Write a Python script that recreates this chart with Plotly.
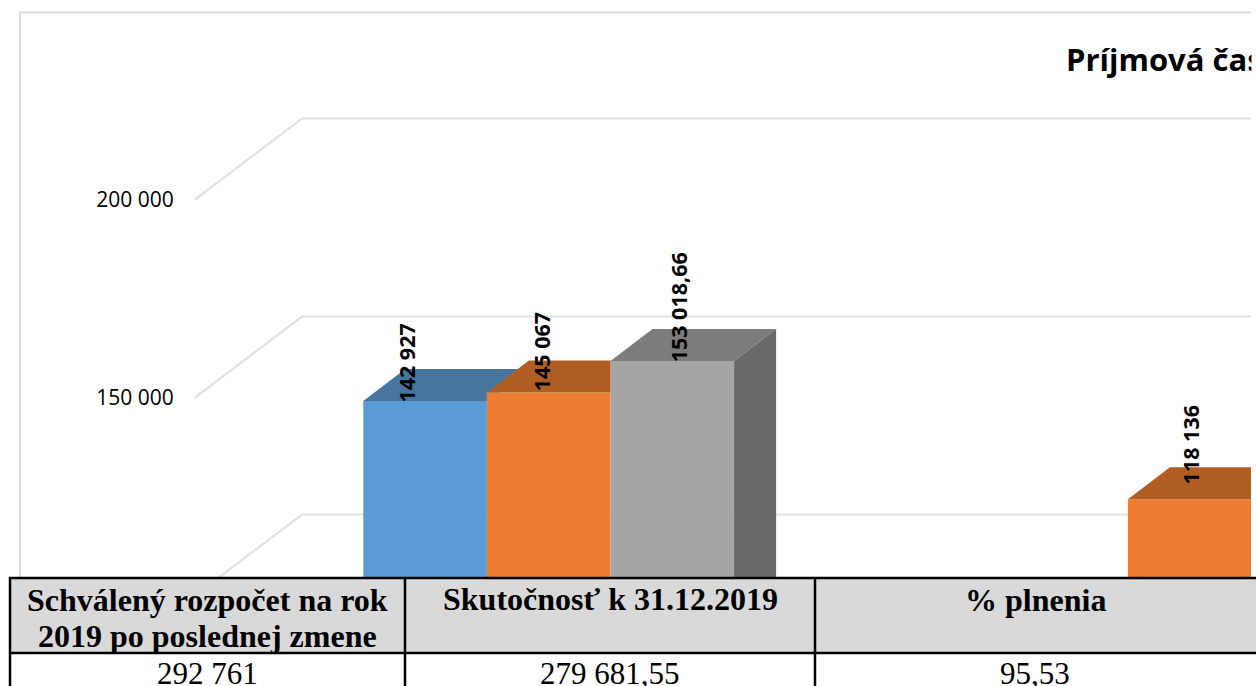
import plotly.graph_objects as go

# ---- data ----
categories = ["Skupina 1", "Skupina 2"]
rozpocet = [142927, None]
upraveny = [145067, 118136]
skutocnost = [153018.66, None]
bar_labels = {"rozpocet": ["142 927", None], "upraveny": ["145 067", "118 136"], "skutocnost": ["153 018,66", None]}
grid_values = [100000, 150000, 200000]
tick_values = [150000, 200000]
tick_labels = ["150 000", "200 000"]
title_text = "Príjmová časť"
table_headers = [["Schválený rozpočet na rok", "2019 po poslednej zmene"], ["Skutočnosť k 31.12.2019"], ["% plnenia"]]
table_values = ["292 761", "279 681,55", "95,53"]

# ---- layout constants (pixels of the 1256x686 page) ----
W, H = 1256, 686
LEFT = 195
UNITS_PER_PX = 50000 / 198
ZERO_PX = 991.5
BAR_LIFT = 24.5 * UNITS_PER_PX    # bars stand in from the floor front
DX, DY = 42, 32                   # bar depth
WALL_DX, WALL_DY = 107, 81        # floor depth
GROUP_X0, GROUP_STEP, BAR_W = 548.7, 641, 123.6
RIGHT_EDGE = 1251


def v_at(px):
    return (ZERO_PX - px) * UNITS_PER_PX


def px_paper_x(px):
    return (px - LEFT) / (W - LEFT)


def px_paper_y(px):
    return 1 - px / H


series = [
    ("rozpocet", rozpocet, -1, "#5B9BD5", "#47759F", None),
    ("upraveny", upraveny, 0, "#ED7D31", "#B15E24", None),
    ("skutocnost", skutocnost, 1, "#A5A5A5", "#7C7C7C", "#696969"),
]
label_shift = {  # dx px, dy px from the bar's front-top corner line
    ("rozpocet", 0): (-19, -3),
    ("upraveny", 0): (-7.5, 0),
    ("upraveny", 1): (1, 14),
    ("skutocnost", 0): (6, -2),
}

fig = go.Figure()
annotations = []
shapes = []

# frame and wall gridlines (below the marks)
shapes.append(dict(type="path", xref="paper", yref="paper",
                   path=f"M {px_paper_x(20)},{px_paper_y(H)} L {px_paper_x(20)},{px_paper_y(12.5)} L {px_paper_x(RIGHT_EDGE)},{px_paper_y(12.5)}",
                   line=dict(color="#DEDEDE", width=2), layer="below"))
for t in grid_values:
    shapes.append(dict(type="path", xref="x", yref="y", layer="below",
                       path=f"M {LEFT},{t} L {LEFT + WALL_DX},{t + WALL_DY * UNITS_PER_PX} L {RIGHT_EDGE},{t + WALL_DY * UNITS_PER_PX}",
                       line=dict(color="#E2E2E2", width=2.2)))

# front faces, through the bar trace
for name, vals, pos, front, top, side in series:
    xs = [GROUP_X0 + i * GROUP_STEP + pos * BAR_W for i in range(len(categories))]
    fig.add_trace(go.Bar(x=xs, y=vals, base=BAR_LIFT, width=BAR_W, name=name,
                         marker=dict(color=front, line=dict(width=0)), showlegend=False))

# top and side faces computed from the same values
for s_idx, (name, vals, pos, front, top, side) in enumerate(series):
    for i, v in enumerate(vals):
        if v is None:
            continue
        x0 = GROUP_X0 + i * GROUP_STEP + pos * BAR_W - BAR_W / 2
        x1 = x0 + BAR_W
        yt = v + BAR_LIFT
        yb = yt + DY * UNITS_PER_PX
        px_, py_ = [x0, x0 + DX, x1 + DX], [yt, yb, yb]
        nxt = series[s_idx + 1][1][i] if s_idx + 1 < len(series) else None
        if nxt is not None and nxt > v:
            rise = (nxt - v) / UNITS_PER_PX   # the next bar's face hides the corner
            px_ += [x1 + rise * DX / DY, x1, x1, x0]
            py_ += [yt + rise * UNITS_PER_PX, yt + rise * UNITS_PER_PX, yt, yt]
        else:
            px_ += [x1, x0]
            py_ += [yt, yt]
        fig.add_trace(go.Scatter(x=px_, y=py_, fill="toself", fillcolor=top, mode="lines",
                                 line=dict(width=0, color=top), showlegend=False, hoverinfo="skip"))
        if side:
            fig.add_trace(go.Scatter(x=[x1, x1 + DX, x1 + DX, x1], y=[yt, yb, v_at(H + 40), v_at(H + 40)],
                                     fill="toself", fillcolor=side, mode="lines",
                                     line=dict(width=0, color=side), showlegend=False, hoverinfo="skip"))
        lab = bar_labels[name][i]
        if lab:
            dx, dy = label_shift[(name, i)]
            annotations.append(dict(x=x0 + BAR_W / 2 + dx, y=yt + dy * UNITS_PER_PX, xref="x", yref="y",
                                    text=f"<b>{lab}</b>", textangle=-90, showarrow=False, xanchor="center",
                                    yanchor="bottom", font=dict(family="Open Sans", size=21.5, color="#000000"),
                                    borderpad=0, bgcolor="rgba(0,0,0,0)"))

# title, with the picture's right edge cutting it
annotations.append(dict(x=px_paper_x(1064), y=px_paper_y(59), xref="paper", yref="paper", text=f"<b>{title_text}</b>",
                        showarrow=False, xanchor="left", yanchor="middle", align="left",
                        font=dict(family="Open Sans", size=31, color="#000000")))
annotations.append(dict(x=px_paper_x(RIGHT_EDGE), y=px_paper_y(59), xref="paper", yref="paper", text=" ",
                        showarrow=False, xanchor="left", yanchor="middle", width=12, height=50,
                        bgcolor="white", borderpad=0, font=dict(size=10)))

# masks and table, above everything
shapes.append(dict(type="rect", xref="paper", yref="paper", x0=px_paper_x(RIGHT_EDGE), x1=px_paper_x(W + 2),
                   y0=px_paper_y(577), y1=px_paper_y(0), fillcolor="white", line=dict(width=0), layer="above"))
shapes.append(dict(type="rect", xref="paper", yref="paper", x0=px_paper_x(0), x1=px_paper_x(W + 2),
                   y0=px_paper_y(H + 2), y1=px_paper_y(577), fillcolor="white", line=dict(width=0), layer="above"))
shapes.append(dict(type="rect", xref="paper", yref="paper", x0=px_paper_x(10), x1=px_paper_x(W + 4),
                   y0=px_paper_y(653), y1=px_paper_y(578), fillcolor="#D9D9D9", line=dict(width=0), layer="above"))
for y in (578, 653):
    shapes.append(dict(type="line", xref="paper", yref="paper", x0=px_paper_x(9), x1=px_paper_x(W + 4),
                       y0=px_paper_y(y), y1=px_paper_y(y), line=dict(color="black", width=2.5), layer="above"))
for x in (10, 405, 815):
    shapes.append(dict(type="line", xref="paper", yref="paper", x0=px_paper_x(x), x1=px_paper_x(x),
                       y0=px_paper_y(577), y1=px_paper_y(H + 2), line=dict(color="black", width=2.5), layer="above"))

col_centers = [207, 610, 1035]
header_ys = [[600, 636], [599], [600]]
for cx, hys, lines, val in zip(col_centers, header_ys, table_headers, table_values):
    for hy, line in zip(hys, lines):
        annotations.append(dict(x=px_paper_x(cx), y=px_paper_y(hy), xref="paper", yref="paper", text=f"<b>{line}</b>",
                                showarrow=False, xanchor="center", yanchor="middle", align="center",
                                font=dict(family="Liberation Serif", size=32, color="#000000")))
    annotations.append(dict(x=px_paper_x(cx), y=px_paper_y(673), xref="paper", yref="paper", text=val,
                            showarrow=False, xanchor="center", yanchor="middle", align="center",
                            font=dict(family="Liberation Serif", size=31, color="#000000")))

fig.update_layout(
    width=W, height=H, margin=dict(l=LEFT, r=0, t=0, b=0, pad=0),
    paper_bgcolor="white", plot_bgcolor="rgba(0,0,0,0)", barmode="overlay",
    font=dict(family="Open Sans"), showlegend=False,
    shapes=shapes, annotations=annotations,
    xaxis=dict(range=[LEFT, W], visible=False),
    yaxis=dict(range=[v_at(H), v_at(0)], tickvals=tick_values, ticktext=tick_labels, showgrid=False,
               zeroline=False, showline=False, ticks="outside", ticklen=16, tickcolor="rgba(0,0,0,0)",
               tickfont=dict(family="Open Sans", size=21, color="#000000")),
)

fig.write_html("out.html", config={"displayModeBar": False},
               post_script="document.body.style.margin='0';document.body.style.overflow='hidden';")
